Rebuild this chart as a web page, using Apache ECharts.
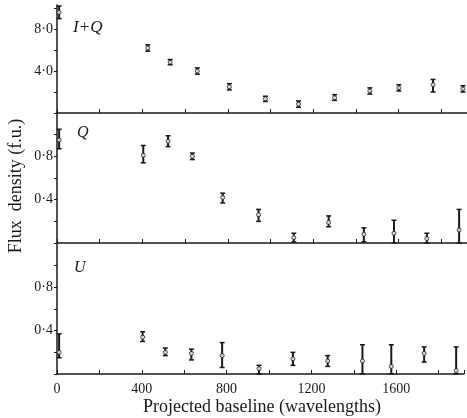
<!DOCTYPE html>
<html><head><meta charset="utf-8">
<script src="https://cdn.jsdelivr.net/npm/echarts@6/dist/echarts.min.js"></script>
<style>html,body{margin:0;padding:0;background:#fff}#c{width:467px;height:418px}</style>
</head><body><div id="c"></div>
<script>
// Panel 1: I+Q
const iqX  = [10, 425, 530, 657, 807, 976, 1131, 1300, 1465, 1601, 1761, 1901];
const iqY  = [9.6, 6.2, 4.85, 4.0, 2.5, 1.35, 0.85, 1.45, 2.1, 2.4, 2.7, 2.3];
const iqLo = [9.0, 5.9, 4.6, 3.7, 2.2, 1.1, 0.55, 1.2, 1.8, 2.1, 2.0, 2.0];
const iqHi = [10.2, 6.5, 5.1, 4.3, 2.8, 1.6, 1.15, 1.75, 2.4, 2.7, 3.2, 2.6];
// Panel 2: Q
const qX  = [10, 404, 520, 634, 776, 944, 1109, 1272, 1437, 1578, 1732, 1883];
const qY  = [0.95, 0.81, 0.94, 0.80, 0.42, 0.26, 0.05, 0.19, 0.08, 0.09, 0.04, 0.12];
const qLo = [0.87, 0.74, 0.89, 0.77, 0.37, 0.20, 0.01, 0.15, 0.01, 0.0, 0.0, 0.0];
const qHi = [1.05, 0.90, 0.99, 0.83, 0.46, 0.31, 0.09, 0.25, 0.14, 0.21, 0.09, 0.31];
// Panel 3: U
const uX  = [10, 404, 511, 634, 779, 953, 1113, 1277, 1441, 1577, 1732, 1883];
const uY  = [0.20, 0.34, 0.20, 0.19, 0.17, 0.05, 0.14, 0.12, 0.12, 0.07, 0.19, 0.03];
const uLo = [0.15, 0.30, 0.17, 0.13, 0.06, 0.0, 0.08, 0.07, 0.0, 0.0, 0.11, 0.0];
const uHi = [0.37, 0.39, 0.24, 0.23, 0.29, 0.08, 0.20, 0.17, 0.27, 0.27, 0.25, 0.25];

const panelNames = ['I+Q', 'Q', 'U'];
const xLabelsShown = [0, 400, 800, 1200, 1600];

const FONT = 'Liberation Serif';
const INK = '#1a1a1a';
const dot = v => String(v).replace('.', '·');

const grids = [
  {left: 57, right: 0, top: 5, height: 108},
  {left: 57, right: 0, top: 113, height: 130},
  {left: 57, right: 0, top: 244, height: 130}
];
const xAxes = grids.map((g, i) => ({
  type: 'value', gridIndex: i, min: 0, max: 1920, interval: 200,
  axisLine: {show: true, onZero: false, lineStyle: {color: INK, width: 1.5}},
  axisTick: {show: true, inside: true, length: 4, lineStyle: {color: INK}},
  axisLabel: {show: i === 2, color: INK, fontFamily: FONT, fontSize: 14, margin: 8,
    formatter: v => xLabelsShown.includes(v) ? String(v) : ''},
  splitLine: {show: false}
}));
const yAxes = [
  {max: 10.3, interval: 2, fmt: v => (v === 4 || v === 8) ? dot(v.toFixed(1)) : ''},
  {max: 1.2, interval: 0.2, fmt: v => (Math.abs(v - 0.4) < 1e-6 || Math.abs(v - 0.8) < 1e-6) ? dot(v.toFixed(1)) : ''},
  {max: 1.2, interval: 0.2, fmt: v => (Math.abs(v - 0.4) < 1e-6 || Math.abs(v - 0.8) < 1e-6) ? dot(v.toFixed(1)) : ''}
].map((a, i) => ({
  type: 'value', gridIndex: i, min: 0, max: a.max, interval: a.interval,
  axisLine: {show: true, lineStyle: {color: INK, width: 1.5}},
  axisTick: {show: true, inside: false, length: 3, lineStyle: {color: INK}},
  axisLabel: {color: INK, fontFamily: FONT, fontSize: 14, margin: 4, formatter: a.fmt, showMaxLabel: false},
  splitLine: {show: false}
}));

function errSeries(i, xs, lo, hi) {
  return {
    type: 'custom', xAxisIndex: i, yAxisIndex: i,
    data: xs.map((x, k) => [x, lo[k], hi[k]]),
    renderItem: (params, api) => {
      const p1 = api.coord([api.value(0), api.value(1)]);
      const p2 = api.coord([api.value(0), api.value(2)]);
      const w = 2.5;
      return {type: 'group', children: [
        {type: 'line', shape: {x1: p1[0], y1: p1[1], x2: p2[0], y2: p2[1]}, style: {stroke: INK, lineWidth: 2}},
        {type: 'line', shape: {x1: p1[0]-w, y1: p1[1], x2: p1[0]+w, y2: p1[1]}, style: {stroke: INK, lineWidth: 1.5}},
        {type: 'line', shape: {x1: p2[0]-w, y1: p2[1], x2: p2[0]+w, y2: p2[1]}, style: {stroke: INK, lineWidth: 1.5}}
      ]};
    },
    silent: true, z: 2
  };
}
function ptSeries(i, xs, ys) {
  return {
    type: 'scatter', xAxisIndex: i, yAxisIndex: i,
    data: xs.map((x, k) => [x, ys[k]]),
    symbol: 'circle', symbolSize: 4,
    itemStyle: {color: '#fff', borderColor: INK, borderWidth: 1},
    silent: true, z: 3
  };
}

const chart = echarts.init(document.getElementById('c'), null, {renderer: 'canvas'});
chart.setOption({
  animation: false,
  backgroundColor: '#fff',
  grid: grids,
  xAxis: xAxes,
  yAxis: yAxes,
  series: [
    errSeries(0, iqX, iqLo, iqHi), ptSeries(0, iqX, iqY),
    errSeries(1, qX, qLo, qHi), ptSeries(1, qX, qY),
    errSeries(2, uX, uLo, uHi), ptSeries(2, uX, uY)
  ],
  graphic: [
    {type: 'text', left: 73, top: 19, style: {text: panelNames[0], font: 'italic 17px "Liberation Serif"', fill: INK}},
    {type: 'text', left: 77, top: 125, style: {text: panelNames[1], font: 'italic 16px "Liberation Serif"', fill: INK}},
    {type: 'text', left: 74, top: 260, style: {text: panelNames[2], font: 'italic 16px "Liberation Serif"', fill: INK}},
    {type: 'text', x: 16, y: 186, rotation: Math.PI / 2,
      style: {text: 'Flux  density (f.u.)', font: '18px "Liberation Serif"', fill: INK, align: 'center', verticalAlign: 'middle'}},
    {type: 'text', x: 262, y: 407,
      style: {text: 'Projected baseline (wavelengths)', font: '18px "Liberation Serif"', fill: INK, align: 'center', verticalAlign: 'middle'}}
  ]
});
</script>
</body></html>
